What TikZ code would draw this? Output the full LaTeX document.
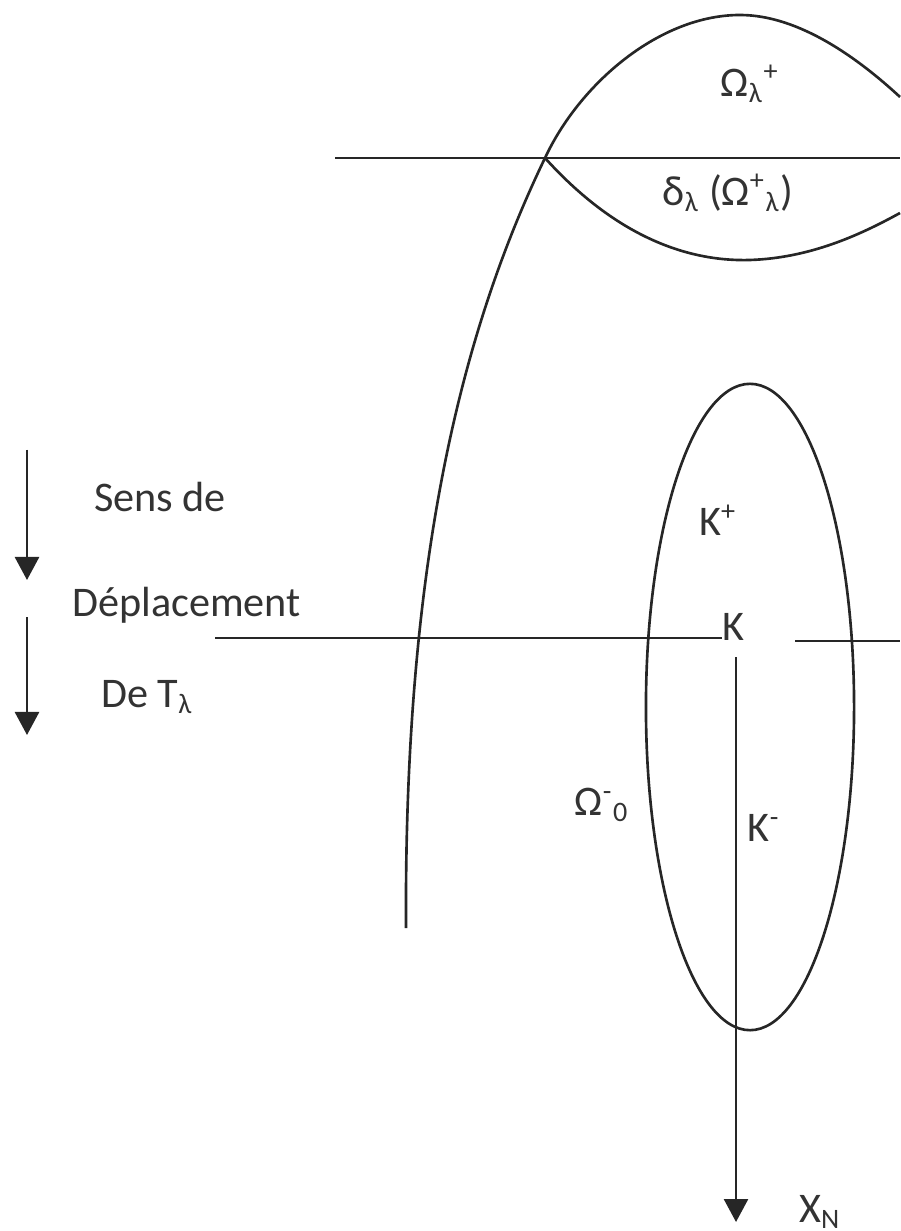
\documentclass[tikz,border=0pt]{standalone}
\usepackage{fontspec}
\setmainfont{Carlito}
\usetikzlibrary{arrows.meta, positioning}

\begin{document}
\begin{tikzpicture}[
  x = 0.01cm, y = -0.01cm,
  curve/.style = {draw=black!85, line width=0.75pt},
  arr/.style   = {-{Triangle[width=0.24cm, length=0.23cm]}, line width=0.75pt, draw=black!85, fill=black!85},
  lbl/.style   = {font=\fontsize{12}{14}\selectfont, text=black!80, inner sep=1pt},
]
\useasboundingbox (0,0) rectangle (900,1231);

% ── Big arc and upper lens ────────────────────────────────────────────────────
\coordinate (cross) at (545,158);
\draw[curve] (406,928) .. controls (404,560) and (462,330) .. (cross)
  .. controls (580,83) and (660,15) .. (740,15)
  .. controls (800,15) and (860,60) .. (900,97);
\draw[curve] (cross) .. controls (610,230) and (680,262) .. (750,260)
  .. controls (810,258) and (860,235) .. (900,213);

% ── Ellipse ───────────────────────────────────────────────────────────────────
\draw[curve] (750,707) ellipse [x radius=1.04cm, y radius=3.23cm];

% ── Labels ────────────────────────────────────────────────────────────────────
\node[lbl] (omplus) at (750,84)  {Ω\textsubscript{λ}\textsuperscript{+}};
\node[lbl] (delta)  at (728,193) {δ\textsubscript{λ} (Ω\textsuperscript{+}\textsubscript{λ})};
\node[lbl] (kplus)  at (718,520) {K\textsuperscript{+}};
\node[lbl] (K)      at (733,627) {K};
\node[lbl] (kminus) at (764,828) {K\textsuperscript{-}};
\node[lbl] (omzero) at (602,805) {Ω\textsuperscript{-}\textsubscript{0}};

\node[lbl, anchor=west] (sens)  at (90,497) {Sens de};
\node[lbl, anchor=west] (depl)  at (68,605) {Déplacement};
\node[lbl, anchor=west] (deT)   at (97,697) {De T\textsubscript{λ}};

% ── Horizontal lines ──────────────────────────────────────────────────────────
\coordinate (topL) at (335,158);
\coordinate (topR) at (900,158);
\coordinate (midL) at (215,638);
\coordinate (midK) at (722,638);
\coordinate (rgtL) at (795,641);
\coordinate (rgtR) at (900,641);
\draw[curve] (topL) -- (topR);
\draw[curve] (midL) -- (midK);
\draw[curve] (rgtL) -- (rgtR);

% ── Arrows ────────────────────────────────────────────────────────────────────
\coordinate (axTop) at (736,657);
\coordinate (axBot) at (736,1222);
\draw[arr] (axTop) -- (axBot);
\node[lbl, anchor=west] (xn) at (795,1212) {X\textsubscript{N}};

\coordinate (sensA) at (27,450);
\coordinate (sensB) at (27,580);
\coordinate (deplA) at (27,617);
\coordinate (deplB) at (27,735);
\draw[arr] (sensA) -- (sensB);
\draw[arr] (deplA) -- (deplB);

\end{tikzpicture}
\end{document}
